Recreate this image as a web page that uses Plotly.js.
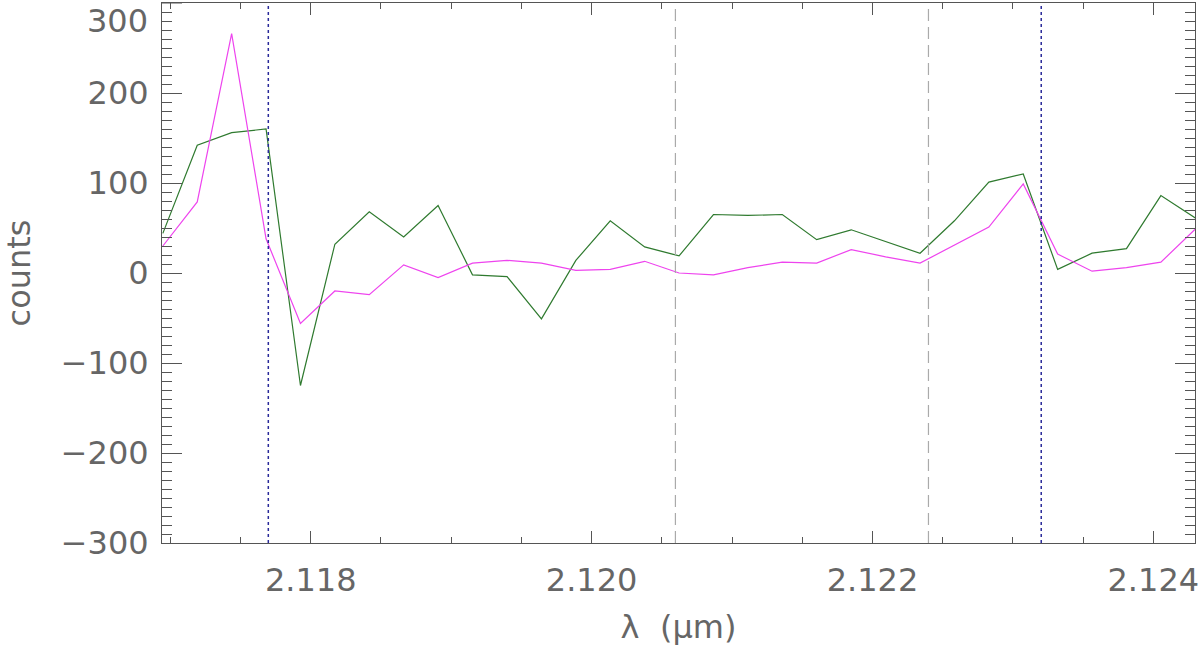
<!DOCTYPE html>
<html>
<head>
<meta charset="utf-8">
<script src="https://cdn.plot.ly/plotly-3.0.1.min.js"></script>
<style>
  html, body { margin: 0; padding: 0; background: #fff; }
  #myDiv { width: 1200px; height: 646px; }
</style>
</head>
<body>
<div id="myDiv"></div>
<script>
// wavelength grid (micron)
var wave = [2.116947, 2.117192, 2.117437, 2.117682, 2.117927, 2.118172, 2.118417, 2.118662,
            2.118907, 2.119152, 2.119398, 2.119643, 2.119888, 2.120133, 2.120378, 2.120623,
            2.120868, 2.121113, 2.121358, 2.121603, 2.121849, 2.122094, 2.122339, 2.122584,
            2.122829, 2.123074, 2.123319, 2.123564, 2.123809, 2.124054, 2.124300];

var greenCounts = [44, 142, 156, 160, -125, 32, 68, 40, 75, -2, -4, -51, 14, 58, 29, 19,
                   65, 64, 65, 37, 48, 35, 22, 58, 101, 110, 4, 22, 27, 86, 61];

var magentaCounts = [30, 79, 266, 38, -56, -20, -24, 9, -5, 11, 14, 11, 3, 4, 13, 0,
                     -2, 6, 12, 11, 26, 18, 11, 31, 51, 99, 21, 2, 6, 12, 49];

var dottedLines = [2.117698, 2.123202];
var dashedLines = [2.120597, 2.122399];

var yTicks = [-300, -200, -100, 0, 100, 200];
var topLabel = 300;

var textFont = {
    family: 'DejaVu Sans ExtraLight, DejaVu Sans, sans-serif',
    size: 32,
    color: '#666666'
};

var trGreen = {
    x: wave,
    y: greenCounts,
    mode: 'lines',
    type: 'scatter',
    line: { color: '#2f7a2f', width: 1.2 },
    hoverinfo: 'none'
};

var trMagenta = {
    x: wave,
    y: magentaCounts,
    mode: 'lines',
    type: 'scatter',
    line: { color: '#ee44ee', width: 1.2 },
    hoverinfo: 'none'
};

var shapes = [];
dottedLines.forEach(function (v) {
    shapes.push({
        type: 'line', xref: 'x', yref: 'paper', x0: v, x1: v, y0: 0, y1: 1,
        line: { color: '#2a2a9a', width: 1.5, dash: 'dot' }
    });
});
dashedLines.forEach(function (v) {
    shapes.push({
        type: 'line', xref: 'x', yref: 'paper', x0: v, x1: v, y0: 0, y1: 1,
        line: { color: '#aaaaaa', width: 1.2, dash: '12px,6px' }
    });
});
// major tick at the top of the y axis (label drawn as annotation)
shapes.push({
    type: 'line', xref: 'paper', yref: 'y', x0: 0, x1: 0.0194, y0: topLabel, y1: topLabel,
    line: { color: '#555555', width: 1 }
});

var layout = {
    width: 1200,
    height: 646,
    showlegend: false,
    paper_bgcolor: '#ffffff',
    plot_bgcolor: '#ffffff',
    margin: { l: 162, r: 5, t: 3, b: 103 },
    font: textFont,
    xaxis: {
        range: [2.116941, 2.124297],
        tick0: 2.118,
        dtick: 0.002,
        tickformat: '.3f',
        ticks: 'inside',
        ticklen: 12,
        tickcolor: '#555555',
        tickwidth: 1,
        ticklabelstandoff: 9,
        minor: { dtick: 0.0005, ticks: 'inside', ticklen: 6, tickcolor: '#555555' },
        showline: true,
        linecolor: '#555555',
        linewidth: 1,
        mirror: 'ticks',
        showgrid: false,
        zeroline: false,
        tickfont: textFont,
        title: { text: 'λ\u00a0\u00a0(μm)', font: textFont, standoff: 30 }
    },
    yaxis: {
        range: [-300, 300],
        tickmode: 'array',
        tickvals: yTicks,
        ticks: 'inside',
        ticklen: 20,
        tickcolor: '#555555',
        tickwidth: 1,
        ticklabelstandoff: 6,
        minor: { tick0: 0, dtick: 10, ticks: 'inside', ticklen: 10, tickcolor: '#555555' },
        showline: true,
        linecolor: '#555555',
        linewidth: 1,
        mirror: 'ticks',
        showgrid: false,
        zeroline: false,
        tickfont: textFont,
        title: { text: 'counts', font: textFont, standoff: 30 }
    },
    annotations: [{
        xref: 'paper', yref: 'y', x: 0, y: topLabel,
        xanchor: 'right', yanchor: 'top',
        xshift: -12, yshift: 3,
        text: String(topLabel),
        showarrow: false,
        font: textFont
    }],
    shapes: shapes
};

var config = { displayModeBar: false, staticPlot: true };

Plotly.newPlot('myDiv', [trGreen, trMagenta], layout, config);
</script>
</body>
</html>
